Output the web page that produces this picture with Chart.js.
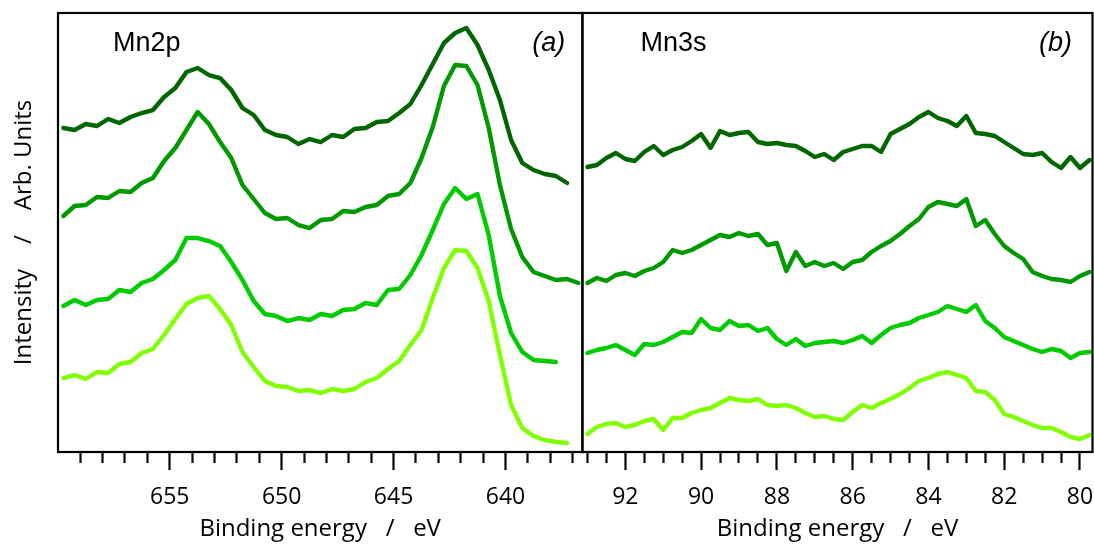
<!DOCTYPE html>
<html>
<head>
<meta charset="utf-8">
<script src="https://cdn.jsdelivr.net/npm/chart.js@4.4.1/dist/chart.umd.min.js"></script>
<style>
  html, body { margin: 0; padding: 0; background: #fff; overflow: hidden; width: 1094px; height: 550px; }
  #wrapL { position: absolute; left: 0; top: 0; width: 600px; height: 550px; }
  #wrapR { position: absolute; left: 560px; top: 0; width: 560px; height: 550px; }
</style>
</head>
<body>
<div id="wrapL"><canvas id="cL" width="600" height="550"></canvas></div>
<div id="wrapR"><canvas id="cR" width="560" height="550"></canvas></div>
<script>
// ---------------- Data (arbitrary intensity units) ----------------
const mn2pEnergy = [659.75,659.25,658.75,658.25,657.75,657.25,656.75,656.25,655.75,655.25,
  654.75,654.25,653.75,653.25,652.75,652.25,651.75,651.25,650.75,650.25,
  649.75,649.25,648.75,648.25,647.75,647.25,646.75,646.25,645.75,645.25,
  644.75,644.25,643.75,643.25,642.75,642.25,641.75,641.25,640.75,640.25,
  639.75,639.25,638.75,638.25,637.75,637.25,636.75];
const mn2pSample1 = [324,322,328,326,333,329,335,339,342,355,364,380,384,377,374,362,344,337,322,317,
  315,308,313,310,317,315,323,324,330,331,339,348,367,388,409,419,424,407,382,352,
  312,289,282,278,276,269,null];
const mn2pSample2 = [236,246,247,255,254,261,260,269,274,291,304,322,340,328,310,294,267,253,239,233,
  234,227,224,232,233,241,240,245,247,256,258,269,294,325,366,387,386,367,324,267,
  223,195,180,176,172,173,169];
const mn2pSample3 = [146,152,147,152,153,162,160,169,173,182,192,214,214,211,206,190,172,151,138,136,
  131,134,132,138,136,142,143,149,147,162,163,177,197,222,248,264,253,258,217,156,
  119,100,92,91,90,null,null];
const mn2pSample4 = [74,77,73,80,79,88,90,99,103,117,133,148,154,156,143,127,100,85,71,66,
  65,61,62,59,63,61,63,70,74,83,91,107,122,154,184,202,201,184,151,97,
  47,24,16,12,10,9,null];

const mn3sEnergy = [93,92.75,92.5,92.25,92,91.75,91.5,91.25,91,90.75,90.5,90.25,90,89.75,89.5,89.25,89,88.75,
  88.5,88.25,88,87.75,87.5,87.25,87,86.75,86.5,86.25,86,85.75,85.5,85.25,85,84.75,84.5,84.25,
  84,83.75,83.5,83.25,83,82.75,82.5,82.25,82,81.75,81.5,81.25,81,80.75,80.5,80.25,80,79.75];
const mn3sSample1 = [285,287,294,299,293,291,300,306,297,302,305,311,318,304,321,317,319,320,310,308,
  309,307,306,301,295,298,292,300,303,306,306,300,318,323,328,335,340,334,331,326,
  336,319,318,316,310,304,298,297,299,290,284,295,284,292];
const mn3sSample2 = [169,174,171,177,179,176,181,184,190,202,199,202,207,212,217,215,219,216,218,207,
  209,181,200,186,190,186,189,183,190,192,200,206,211,218,226,233,245,250,248,246,
  253,226,232,218,206,199,193,180,176,173,172,170,176,180];
const mn3sSample3 = [99,102,104,107,102,97,108,107,110,115,120,119,133,124,122,131,126,127,121,124,
  113,107,113,106,109,110,111,109,112,116,109,117,124,127,129,134,137,140,146,143,
  140,147,131,124,115,111,107,103,100,103,101,94,99,100];
const mn3sSample4 = [18,25,28,29,25,27,31,33,22,34,34,39,42,44,49,54,52,51,53,47,
  46,47,44,39,35,36,33,32,40,47,44,49,53,58,64,71,74,78,80,77,
  74,61,60,52,38,35,31,27,24,24,20,15,13,17];

const seriesColors = ['#006600', '#009900', '#00cc00', '#80ff00'];

const xTitle = 'Binding energy   /   eV';
const yTitle = 'Intensity    /    Arb. Units';

// ---------------- Helpers ----------------
function toPoints(xs, ys) {
  return xs.map((x, i) => ({ x: x, y: ys[i] }));
}
function makeDatasets(xs, list) {
  return list.map((ys, i) => ({
    data: toPoints(xs, ys),
    borderColor: seriesColors[i],
    backgroundColor: seriesColors[i],
    borderWidth: 4.4,
    pointRadius: 0,
    tension: 0,
    fill: false,
    spanGaps: false,
    borderJoinStyle: 'round',
    borderCapStyle: 'round'
  }));
}

const framePlugin = {
  id: 'frame',
  afterDraw(chart, args, opts) {
    const { ctx, chartArea: a } = chart;
    ctx.save();
    ctx.strokeStyle = '#000';
    ctx.lineWidth = 2.2;
    ctx.strokeRect(a.left, a.top, a.right - a.left, a.bottom - a.top);
    ctx.fillStyle = '#000';
    ctx.textBaseline = 'alphabetic';
    ctx.font = '27px "Liberation Sans", Arial, sans-serif';
    ctx.textAlign = 'left';
    ctx.fillText(opts.name, a.left + opts.nameDx, a.top + 38);
    ctx.font = 'italic 27px "Liberation Sans", Arial, sans-serif';
    ctx.textAlign = 'right';
    ctx.fillText(opts.tag, a.right - opts.tagDx, a.top + 38);
    ctx.restore();
  }
};

const FONT = '"Open Sans", sans-serif';

function xScale(min, max, step, majorEvery) {
  const isMajor = (v) => Math.abs(v / majorEvery - Math.round(v / majorEvery)) < 1e-6;
  return {
    type: 'linear',
    position: 'bottom',
    reverse: true,
    min: min,
    max: max,
    afterFit: (s) => { s.height = 98; },
    border: { display: true, color: '#000', width: 2 },
    grid: {
      display: true,
      drawOnChartArea: false,
      drawTicks: true,
      tickLength: 18,
      tickWidth: 2.2,
      tickColor: '#000',
      tickBorderDash: (c) => (c.tick && isMajor(c.tick.value)) ? [] : [10, 60]
    },
    ticks: {
      stepSize: step,
      autoSkip: false,
      includeBounds: false,
      maxRotation: 0,
      minRotation: 0,
      padding: 16,
      color: '#000',
      font: { family: FONT, size: 23, lineHeight: 1 },
      callback: (v) => isMajor(v) ? String(Math.round(v)) : ''
    },
    title: {
      display: true,
      text: xTitle,
      color: '#000',
      font: { family: FONT, size: 24, lineHeight: 1 },
      padding: { top: 0, bottom: 9 }
    }
  };
}

// ---------------- Left panel: Mn2p ----------------
new Chart(document.getElementById('cL'), {
  type: 'line',
  data: { datasets: makeDatasets(mn2pEnergy, [mn2pSample1, mn2pSample2, mn2pSample3, mn2pSample4]) },
  options: {
    responsive: false,
    animation: false,
    devicePixelRatio: 1,
    layout: { padding: { left: 0, right: 17.7, top: 13, bottom: 0 } },
    plugins: {
      legend: { display: false },
      tooltip: { enabled: false },
      frame: { name: 'Mn2p', nameDx: 55, tag: '(a)', tagDx: 17 }
    },
    scales: {
      x: xScale(636.57, 659.99, 1, 5),
      y: {
        min: 0, max: 439,
        afterFit: (s) => { s.width = 58; },
        grid: { display: false, drawTicks: false },
        border: { display: false },
        ticks: { display: false },
        title: {
          display: true,
          text: yTitle,
          color: '#000',
          font: { family: FONT, size: 24, lineHeight: 1 },
          padding: { top: 12, bottom: 0 }
        }
      }
    }
  },
  plugins: [framePlugin]
});

// ---------------- Right panel: Mn3s ----------------
new Chart(document.getElementById('cR'), {
  type: 'line',
  data: { datasets: makeDatasets(mn3sEnergy, [mn3sSample1, mn3sSample2, mn3sSample3, mn3sSample4]) },
  options: {
    responsive: false,
    animation: false,
    devicePixelRatio: 1,
    layout: { padding: { left: 22.5, right: 27.5, top: 13, bottom: 0 } },
    plugins: {
      legend: { display: false },
      tooltip: { enabled: false },
      frame: { name: 'Mn3s', nameDx: 58, tag: '(b)', tagDx: 20.5 }
    },
    scales: {
      x: xScale(79.67, 93.13, 0.5, 2),
      y: { display: false, min: 0, max: 439 }
    }
  },
  plugins: [framePlugin]
});
</script>
</body>
</html>
